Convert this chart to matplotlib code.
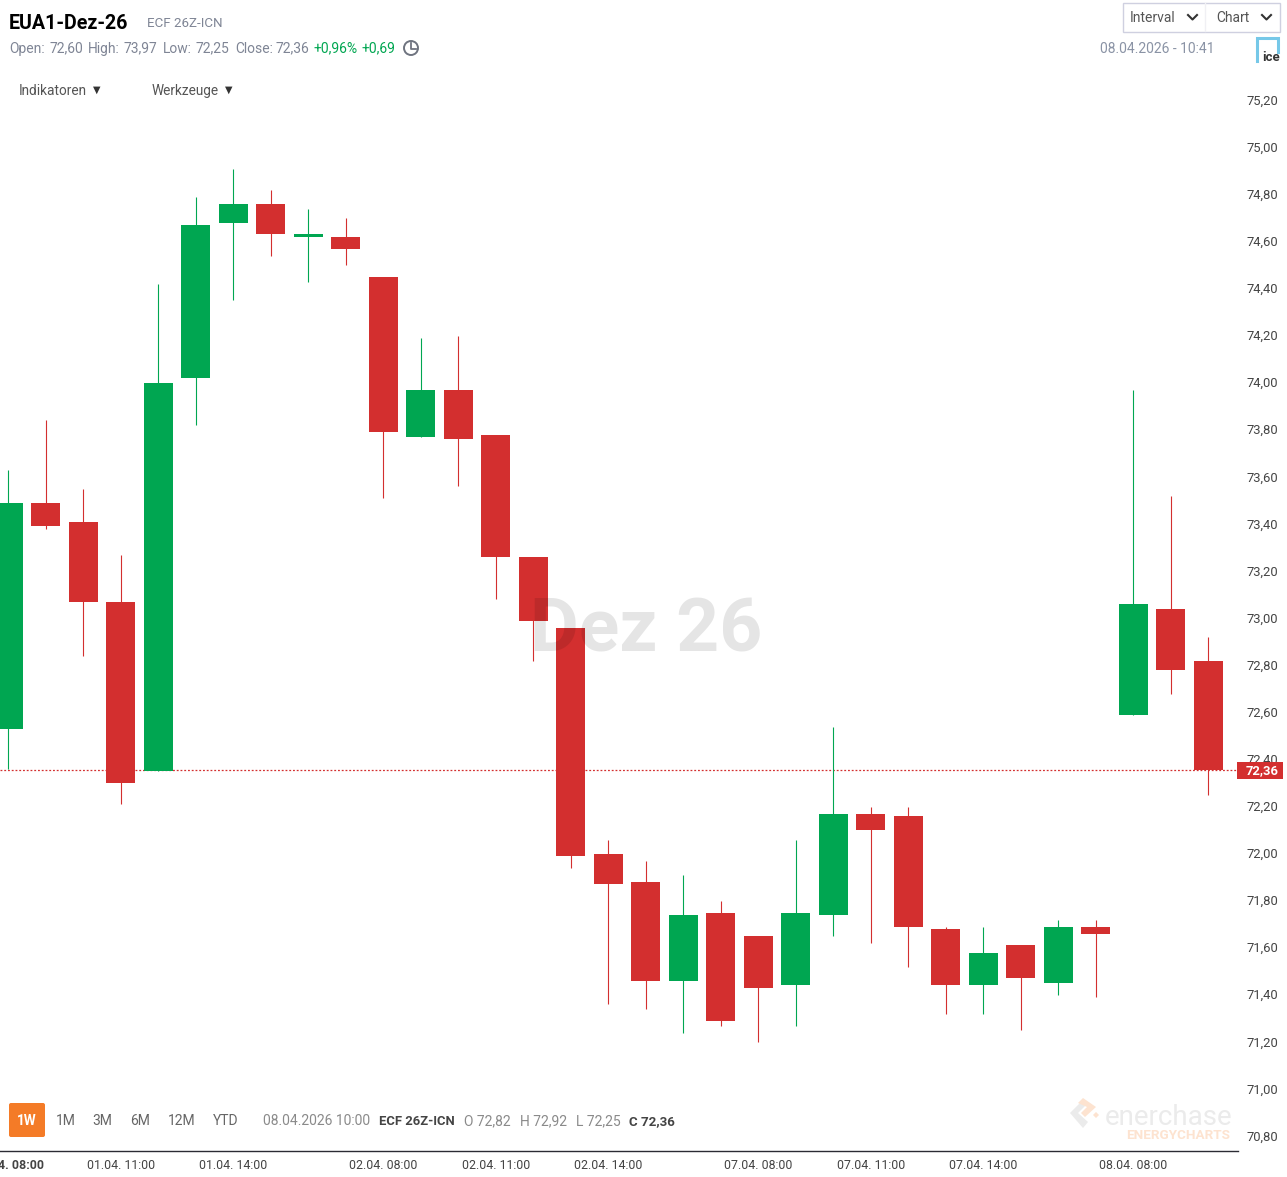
import matplotlib
matplotlib.use("Agg")
import matplotlib.pyplot as plt
from matplotlib.patches import FancyBboxPatch, Rectangle, Polygon, Circle
from matplotlib.transforms import ScaledTranslation

plt.rcParams['font.family'] = ['Roboto', 'DejaVu Sans']

# Kerzen: open, high, low, close
opens = [72.53, 73.49, 73.41, 73.07, 72.35, 74.02, 74.68, 74.76, 74.62, 74.62, 74.45,
         73.77, 73.97, 73.78, 73.26, 72.96, 72.00, 71.88, 71.46, 71.75, 71.65,
         71.44, 71.74, 72.17, 72.16, 71.68, 71.44, 71.61, 71.45, 71.69, 72.59, 73.04, 72.82]
highs = [73.63, 73.84, 73.55, 73.27, 74.42, 74.79, 74.91, 74.82, 74.74, 74.70, 74.45,
         74.19, 74.20, 73.78, 73.26, 72.96, 72.06, 71.97, 71.91, 71.80, 71.65,
         72.06, 72.54, 72.20, 72.20, 71.69, 71.69, 71.61, 71.72, 71.72, 73.97, 73.52, 72.92]
lows = [72.36, 73.38, 72.84, 72.21, 72.35, 73.82, 74.35, 74.54, 74.43, 74.50, 73.51,
        73.77, 73.56, 73.08, 72.82, 71.94, 71.36, 71.34, 71.24, 71.27, 71.20,
        71.27, 71.65, 71.62, 71.52, 71.32, 71.32, 71.25, 71.40, 71.39, 72.59, 72.68, 72.25]
closes = [73.49, 73.39, 73.07, 72.30, 74.00, 74.67, 74.76, 74.63, 74.633, 74.57, 73.79,
          73.97, 73.76, 73.26, 72.99, 71.99, 71.87, 71.46, 71.74, 71.29, 71.43,
          71.75, 72.17, 72.10, 71.69, 71.44, 71.58, 71.47, 71.69, 71.66, 73.06, 72.78, 72.355]
last_close = 72.355

y_ticks = [70.8, 71.0, 71.2, 71.4, 71.6, 71.8, 72.0, 72.2, 72.4, 72.6, 72.8, 73.0, 73.2,
           73.4, 73.6, 73.8, 74.0, 74.2, 74.4, 74.6, 74.8, 75.0, 75.2]
x_ticks = [0, 3, 6, 10, 13, 16, 20, 23, 26, 30]
x_labels = ['01.04. 08:00', '01.04. 11:00', '01.04. 14:00', '02.04. 08:00', '02.04. 11:00',
            '02.04. 14:00', '07.04. 08:00', '07.04. 11:00', '07.04. 14:00', '08.04. 08:00']

GREEN = '#00a651'
RED = '#d32f2f'
W, H = 1287, 1177

fig = plt.figure(figsize=(W / 100, H / 100), dpi=100, facecolor='white')

# Hauptachse: x 0..1238 px, y 0..1151 px
ax = fig.add_axes([0, (H - 1151) / H, 1238 / W, 1151 / H])
ax.set_xlim(-0.22, 32.793)
ax.set_ylim(70.737, 75.626)
for s in ['top', 'left', 'right']:
    ax.spines[s].set_visible(False)
ax.spines['bottom'].set_color('#2b2b33')
ax.spines['bottom'].set_linewidth(1)

for i in range(len(opens)):
    col = GREEN if closes[i] >= opens[i] else RED
    ax.vlines(i, lows[i], highs[i], color=col, lw=0.8, zorder=3)
    ax.bar(i, abs(closes[i] - opens[i]), bottom=min(opens[i], closes[i]), width=0.785,
           color=col, linewidth=0, zorder=4)

ax.axhline(last_close, color=RED, lw=0.9, ls=(0, (1.5, 1.5)), zorder=2)

ax.yaxis.tick_right()
ax.set_yticks(y_ticks)
ax.set_yticklabels([f'{v:.2f}'.replace('.', ',') for v in y_ticks], fontsize=9.4, color='#444444')
ax.tick_params(axis='y', length=0, pad=6)
for lab in ax.get_yticklabels():
    lab.set_transform(lab.get_transform() + ScaledTranslation(0, 0.5 / 72, fig.dpi_scale_trans))
ax.set_xticks(x_ticks)
ax.set_xticklabels(x_labels, fontsize=8.9, color='#444444')
ax.tick_params(axis='x', length=0, pad=6)
ax.get_xticklabels()[0].set_fontweight('bold')

# Overlay in Pixeln fuer Kopfzeile, Buttons, Logos
ui = fig.add_axes([0, 0, 1, 1], zorder=10)
ui.set_xlim(0, W)
ui.set_ylim(H, 0)
ui.axis('off')


def t(x, y, s, size=10, color='#6f7480', weight='normal', ha='left'):
    # y ist die Textmitte, gezeichnet wird auf der Grundlinie
    ui.text(x, y + 0.47 * size, s, fontsize=size, color=color, fontweight=weight,
            ha=ha, va='baseline')


# Wasserzeichen liegt halbtransparent ueber den Kerzen
ui.text(646, 651, 'Dez 26', fontsize=54, fontweight='bold', color='black', alpha=0.1,
        ha='center', va='baseline')

# enerchase Logo
ui.text(1105, 1125, 'enerchase', fontsize=20, color='#ebebeb', va='baseline')
ui.text(1126, 1139, 'ENERGYCHARTS', fontsize=9.7, fontweight='bold', color='#fde3d0', va='baseline')
ui.add_patch(Polygon([(1070, 1113), (1081, 1102), (1085, 1106), (1078, 1113), (1088, 1122), (1083, 1128)],
                     closed=True, fc='#ebebeb', ec='none'))
ui.add_patch(Polygon([(1078, 1103), (1083, 1098), (1096, 1107), (1085, 1117), (1081, 1113), (1087, 1107)],
                     closed=True, fc='#fde3d0', ec='none'))
ui.add_patch(Polygon([(1093, 1115), (1096, 1112), (1099, 1115), (1096, 1118)],
                     closed=True, fc='#fde3d0', ec='none'))

# Kopfzeile
t(9, 22, 'EUA1-Dez-26', size=14.1, color='#000000', weight='bold')
t(147, 22, 'ECF 26Z-ICN', size=9.6, color='#7f8595')
t(9, 48, 'Open:', color='#7f8595')
t(49, 48, '72,60', color='#7f8595')
t(88, 48, 'High:', color='#7f8595')
t(124, 48, '73,97', color='#7f8595')
t(163, 48, 'Low:', color='#7f8595')
t(196, 48, '72,25', color='#7f8595')
t(235, 48, 'Close:', color='#7f8595')
t(275, 48, '72,36', color='#7f8595')
t(314, 48, '+0,96%', color=GREEN)
t(362, 48, '+0,69', color=GREEN)
ui.add_patch(Circle((411, 48), 7, fc='none', ec='#6f7480', lw=1.4))
ui.plot([411, 411, 416], [43, 49, 49], color='#6f7480', lw=1.3)

t(19, 90, 'Indikatoren', size=9.8, color='#555555')
t(93, 89, '▼', size=7, color='#333333')
t(152, 90, 'Werkzeuge', size=9.8, color='#555555')
t(225, 89, '▼', size=7, color='#333333')

# Interval / Chart
ui.add_patch(Rectangle((1122.5, 2.5), 157, 29, fc='white', ec='#cfd0e0', lw=1))
ui.plot([1204.5, 1204.5], [3, 31], color='#f0f0f4', lw=1)
t(1129.5, 17, 'Interval', color='#555555')
t(1216, 17, 'Chart', color='#555555')
ui.plot([1188, 1192.5, 1197], [15, 19.5, 15], color='#333333', lw=1.5)
ui.plot([1262, 1266.5, 1271], [15, 19.5, 15], color='#333333', lw=1.5)
t(1100, 48, '08.04.2026 - 10:41', color='#8a93a5')

# ICE Logo
ui.plot([1256.5, 1256.5, 1278, 1278], [61, 37.5, 37.5, 52], color='#76c8e8', lw=2.2, solid_joinstyle='miter')
ui.text(1262, 61, 'ice', fontsize=9.5, color='#333333', fontweight='bold', va='baseline')

# Letzter Kurs
ui.add_patch(Rectangle((1237, 762), 46, 17, fc=RED, ec='none'))
t(1262, 769.5, '72,36', size=9.4, color='white', weight='bold', ha='center')

# Zeitraum-Buttons
ui.add_patch(FancyBboxPatch((9, 1103), 36, 34, boxstyle='round,pad=0,rounding_size=2', fc='#f47b27', ec='none'))
t(27, 1120.5, '1W', size=9.8, color='white', weight='bold', ha='center')
for x, s in zip([65.5, 102.5, 140, 182, 225.5], ['1M', '3M', '6M', '12M', 'YTD']):
    t(x, 1120.5, s, color='#666666', ha='center')
t(263, 1120.5, '08.04.2026 10:00', color='#8a8a8a')
t(379, 1120.5, 'ECF 26Z-ICN', size=9.4, color='#444444', weight='bold')
t(464, 1120.5, 'O 72,82', color='#8a8a8a')
t(520, 1120.5, 'H 72,92', color='#8a8a8a')
t(576, 1120.5, 'L 72,25', color='#8a8a8a')
t(629, 1120.5, 'C 72,36', size=9.6, color='#444444', weight='bold')

fig.savefig('out.png', dpi=100)
